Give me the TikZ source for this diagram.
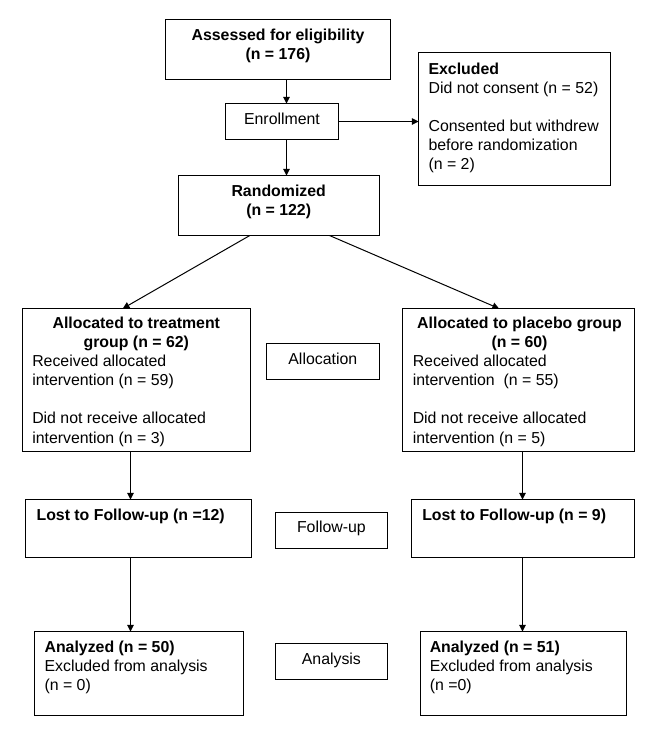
\documentclass[tikz,border=0pt]{standalone}
\usepackage{fontspec}
\setmainfont{Liberation Sans}
\usetikzlibrary{arrows.meta}
\newcommand\pbox[5]{\node[boxst, minimum width={(#4-#2)*0.75pt}, minimum height={(#5-#3)*0.75pt}] (#1) at (#2,#3) {};}
\begin{document}
\begin{tikzpicture}[x=0.75pt,y=-0.75pt,
  boxst/.style={draw, line width=0.75pt, inner sep=0pt, outer sep=0pt, anchor=north west},
  txt/.style={inner sep=0pt, font=\fontsize{11.9pt}{14.3pt}\selectfont},
  ctxt/.style={txt, align=center, anchor=north},
  ltxt/.style={txt, align=left, anchor=north west},
  arr/.style={line width=0.75pt, -{Triangle[length=5pt,width=5pt]}}]
\useasboundingbox (0,0) rectangle (659,740);
% boxes
\pbox{assess}{165.5}{19.5}{390.5}{79.5}
\pbox{enroll}{225.5}{103.5}{338.5}{139.5}
\pbox{excl}{418.5}{52.5}{610.5}{185.5}
\pbox{rand}{178.5}{175.5}{379.5}{235.5}
\pbox{treat}{22.5}{308.5}{250.5}{451.5}
\pbox{alloc}{266.5}{343.5}{379.5}{379.5}
\pbox{plac}{402.5}{308.5}{634.5}{451.5}
\pbox{lostL}{25.5}{499.5}{251.5}{557.5}
\pbox{fu}{275.5}{512.5}{387.5}{548.5}
\pbox{lostR}{411.5}{499.5}{634.5}{557.5}
\pbox{anL}{34.5}{631.5}{243.5}{715.5}
\pbox{an}{275.5}{643.5}{387.5}{679.5}
\pbox{anR}{420.5}{631.5}{626.5}{715.5}
% texts
\node[ctxt] (tassess) at (278,28.3) {\textbf{Assessed for eligibility}\\\textbf{(n = 176)}};
\node[ctxt] (tenroll) at (282,112.3) {Enrollment};
\node[ltxt] (texcl) at (428.3,62.3) {\textbf{Excluded}\\Did not consent (n = 52)\\[14.3pt]Consented but withdrew\\before randomization\\(n = 2)};
\node[ctxt] (trand) at (278.7,184.7) {\textbf{Randomized}\\\textbf{(n = 122)}};
\node[ctxt] (ttreat) at (136.3,316.7) {\textbf{Allocated to treatment}\\\textbf{group (n = 62)}};
\node[ltxt] (ttreatb) at (32,355) {Received allocated\\intervention (n = 59)\\[14.3pt]Did not receive allocated\\intervention (n = 3)};
\node[ctxt] (talloc) at (322.8,352.3) {Allocation};
\node[ctxt] (tplac) at (519.5,316.7) {\textbf{Allocated to placebo group}\\\textbf{(n = 60)}};
\node[ltxt] (tplacb) at (412.5,355) {Received allocated\\intervention~ (n = 55)\\[14.3pt]Did not receive allocated\\intervention (n = 5)};
\node[ltxt] (tlostL) at (36.3,509) {\textbf{Lost to Follow-up (n =12)}};
\node[ctxt] (tfu) at (331.4,521) {Follow-up};
\node[ltxt] (tlostR) at (422,509) {\textbf{Lost to Follow-up (n = 9)}};
\node[ltxt] (tanL) at (44.3,640.7) {\textbf{Analyzed (n = 50)}\\Excluded from analysis\\(n = 0)};
\node[ctxt] (tan) at (331.4,652.7) {Analysis};
\node[ltxt] (tanR) at (429.5,640.7) {\textbf{Analyzed (n = 51)}\\Excluded from analysis\\(n =0)};
% connector x positions
\coordinate (xa) at (286.5,0);
\coordinate (xl) at (130.5,0);
\coordinate (xr) at (522.5,0);
\coordinate (dl) at (249.8,0);
\coordinate (tl) at (122.8,0);
\coordinate (dr) at (329.5,0);
\coordinate (tr) at (499,0);
% connectors
\draw[arr] (xa |- assess.south) -- (xa |- enroll.north);
\draw[arr] (xa |- enroll.south) -- (xa |- rand.north);
\draw[arr] (enroll.east) -- (enroll.east -| excl.west);
\draw[arr] (dl |- rand.south) -- (tl |- treat.north);
\draw[arr] (dr |- rand.south) -- (tr |- plac.north);
\draw[arr] (xl |- treat.south) -- (xl |- lostL.north);
\draw[arr] (xl |- lostL.south) -- (xl |- anL.north);
\draw[arr] (xr |- plac.south) -- (xr |- lostR.north);
\draw[arr] (xr |- lostR.south) -- (xr |- anR.north);
\end{tikzpicture}
\end{document}
